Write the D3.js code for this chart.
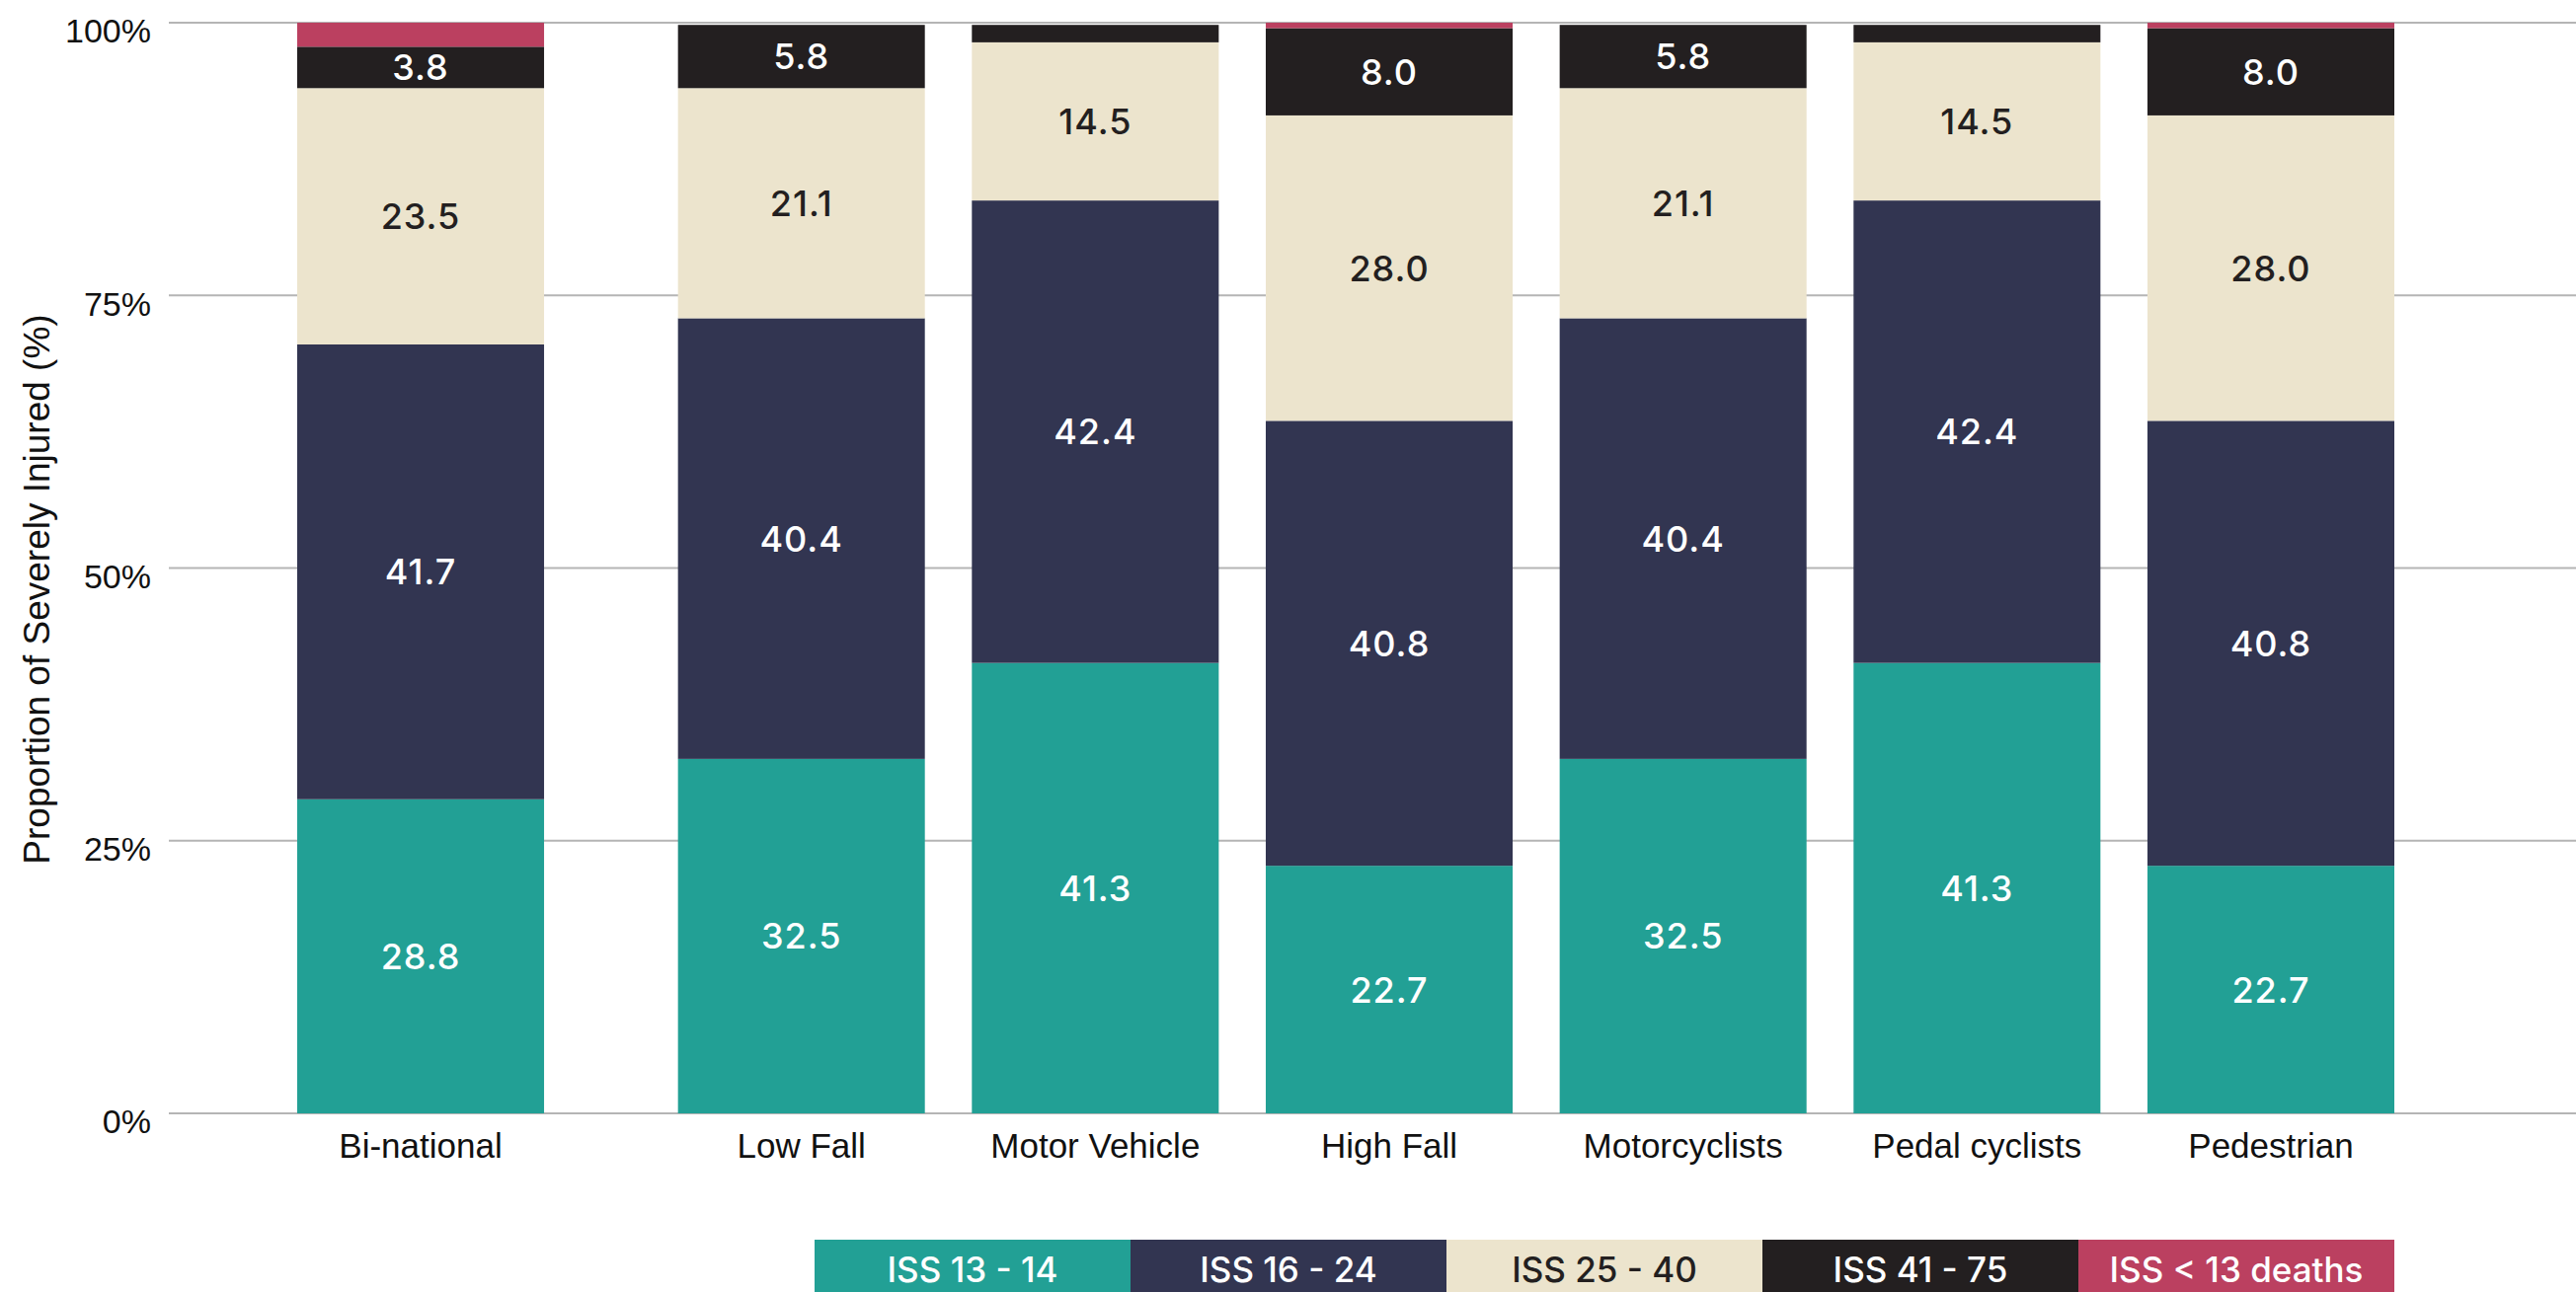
<!DOCTYPE html>
<html>
<head>
<meta charset="utf-8">
<script src="https://cdn.jsdelivr.net/npm/d3@7"></script>
<style>
  body { margin: 0; background: #fff; }
  svg { display: block; }
</style>
</head>
<body>
<svg id="chart" width="2609" height="1309"></svg>
<script>
const categories = ["Bi-national", "Low Fall", "Motor Vehicle", "High Fall", "Motorcyclists", "Pedal cyclists", "Pedestrian"];
const iss13_14 = [28.8, 32.5, 41.3, 22.7, 32.5, 41.3, 22.7];
const iss16_24 = [41.7, 40.4, 42.4, 40.8, 40.4, 42.4, 40.8];
const iss25_40 = [23.5, 21.1, 14.5, 28.0, 21.1, 14.5, 28.0];
const iss41_75 = [3.8, 5.8, 1.6, 8.0, 5.8, 1.6, 8.0];
const issDeaths = [2.2, 0.0, 0.0, 0.5, 0.0, 0.0, 0.5];
const yTicks = [0, 25, 50, 75, 100];

const seriesKeys = ["ISS 13 - 14", "ISS 16 - 24", "ISS 25 - 40", "ISS 41 - 75", "ISS < 13 deaths"];
const seriesValues = [iss13_14, iss16_24, iss25_40, iss41_75, issDeaths];
const colors = ["#22a095", "#323551", "#ece4cd", "#231f20", "#bb4060"];
const textColors = ["#fff", "#fff", "#231f20", "#fff", "#fff"];

const width = 2609;
const height = 1309;

// rows for d3.stack
const rows = categories.map((c, i) => {
  const row = { category: c };
  seriesKeys.forEach((k, j) => (row[k] = seriesValues[j][i]));
  return row;
});

const svg = d3.select("#chart");

const y = d3.scaleLinear().domain([0, 100]).range([1128, 23]);

// first bar is the bi-national benchmark, kept a bit apart from the rest
const groupGap = 88;
const x = d3
  .scaleBand()
  .domain(categories)
  .range([301, 2337])
  .paddingInner(0.16)
  .paddingOuter(0);
const xPos = (c) => x(c) + (c === categories[0] ? 0 : groupGap);

// gridlines
svg
  .append("g")
  .selectAll("line")
  .data(yTicks)
  .join("line")
  .attr("x1", 171)
  .attr("x2", width)
  .attr("y1", (d) => y(d))
  .attr("y2", (d) => y(d))
  .attr("stroke", "#b5b5b5")
  .attr("stroke-width", 2);

// y tick labels
svg
  .append("g")
  .selectAll("text")
  .data(yTicks)
  .join("text")
  .attr("x", 153)
  .attr("y", (d) => y(d))
  .attr("dy", "0.6em")
  .attr("text-anchor", "end")
  .style("font-family", "'Liberation Sans', Arial, sans-serif")
  .style("font-size", "34px")
  .attr("fill", "#111")
  .text((d) => d + "%");

// y axis title
svg
  .append("text")
  .attr("transform", `translate(37, 597) rotate(-90)`)
  .attr("dy", "0.35em")
  .attr("text-anchor", "middle")
  .style("font-family", "'Liberation Sans', Arial, sans-serif")
  .style("font-size", "37px")
  .attr("fill", "#111")
  .text("Proportion of Severely Injured (%)");

const stacked = d3.stack().keys(seriesKeys)(rows);

const layers = svg
  .append("g")
  .selectAll("g")
  .data(stacked)
  .join("g")
  .attr("fill", (d, i) => colors[i]);

layers
  .selectAll("rect")
  .data((d) => d)
  .join("rect")
  .attr("x", (d) => xPos(d.data.category))
  .attr("width", x.bandwidth())
  .attr("y", (d) => y(d[1]))
  .attr("height", (d) => y(d[0]) - y(d[1]));

// value labels
const fmt = d3.format(".1f");
layers
  .selectAll("text")
  .data((d, i) => d.map((p) => ({ p, i, v: p[1] - p[0] })).filter((e) => e.v >= 3))
  .join("text")
  .attr("x", (e) => xPos(e.p.data.category) + x.bandwidth() / 2)
  .attr("y", (e) => y((e.p[0] + e.p[1]) / 2))
  .attr("dy", "0.36em")
  .attr("text-anchor", "middle")
  .style("font-family", "Inter, 'Noto Sans', sans-serif")
  .style("font-weight", 500)
  .style("font-size", "36px")
  .style("letter-spacing", "1px")
  .attr("fill", (e) => textColors[e.i])
  .text((e) => fmt(e.v));

// category labels
svg
  .append("g")
  .selectAll("text")
  .data(categories)
  .join("text")
  .attr("x", (c) => xPos(c) + x.bandwidth() / 2)
  .attr("y", 1160)
  .attr("dy", "0.36em")
  .attr("text-anchor", "middle")
  .style("font-family", "'Liberation Sans', Arial, sans-serif")
  .style("font-size", "35px")
  .attr("fill", "#111")
  .text((c) => c);

// legend, right edge lined up with the last bar
const legendW = 320;
const legendRight = xPos(categories[categories.length - 1]) + x.bandwidth();
const legendLeft = legendRight - legendW * seriesKeys.length;
const legend = svg
  .append("g")
  .selectAll("g")
  .data(seriesKeys)
  .join("g")
  .attr("transform", (d, i) => `translate(${legendLeft + i * legendW}, 1256)`);

legend
  .append("rect")
  .attr("width", legendW)
  .attr("height", 60)
  .attr("fill", (d, i) => colors[i]);

legend
  .append("text")
  .attr("x", legendW / 2)
  .attr("y", 30)
  .attr("dy", "0.36em")
  .attr("text-anchor", "middle")
  .style("font-family", "Inter, 'Noto Sans', sans-serif")
  .style("font-weight", 500)
  .style("font-size", "35px")
  .attr("fill", (d, i) => textColors[i])
  .text((d) => d);
</script>
</body>
</html>
